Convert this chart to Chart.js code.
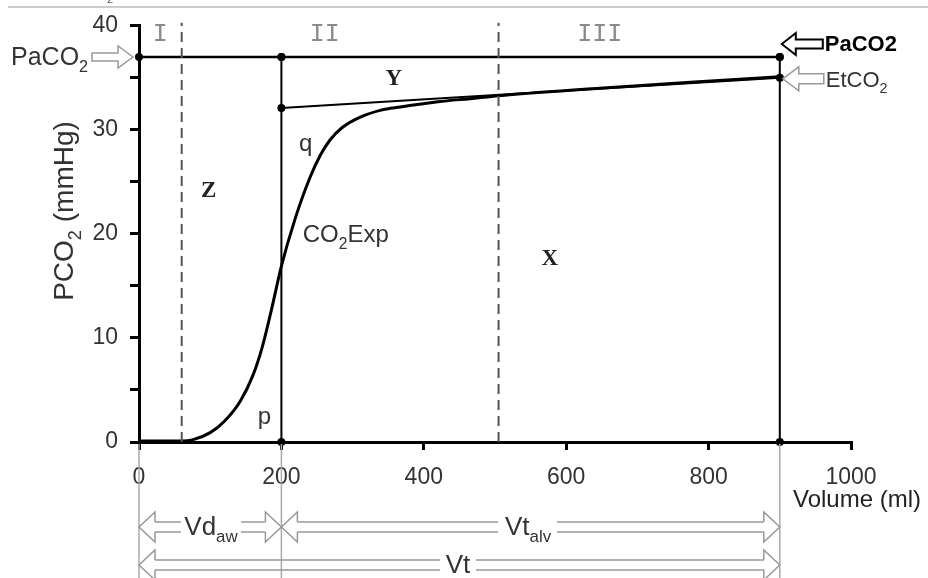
<!DOCTYPE html>
<html>
<head>
<meta charset="utf-8">
<script src="https://cdn.jsdelivr.net/npm/chart.js@4.4.1/dist/chart.umd.min.js"></script>
<style>
  body { margin: 0; background: #fff; }
  canvas { display: block; }
</style>
</head>
<body>
<canvas id="capno" width="928" height="578"></canvas>
<script>
// courbe du capnogramme volumétrique (volume expiré en ml, PCO2 en mmHg)
var volume = [0, 40, 60, 75, 100, 120, 142, 160, 173, 186, 200, 219, 240, 255, 268, 285, 310, 340, 367, 420, 465, 510, 647, 780, 900];
var pco2 = [0.1, 0.1, 0.1, 0.2, 0.9, 2.0, 3.9, 6.4, 9.1, 12.7, 16.9, 21.4, 25.4, 27.6, 29.0, 30.2, 31.2, 31.9, 32.2, 32.7, 33.0, 33.3, 34.0, 34.6, 35.1];

// valeurs de référence
var paco2 = 37;
var etco2 = 35;
var tangentStart = 32.1;   // droite Y au point p/q (200 ml)
var vdAw = 200;            // espace mort des voies aériennes
var vt = 900;              // volume courant
var phaseLimits = [60, 505];
var phaseLabels = ['I', 'II', 'III'];
var phaseLabelX = [30, 261, 647];

var xTicks = [0, 200, 400, 600, 800, 1000];
var yTicks = [0, 10, 20, 30, 40];

var FONT = '"Liberation Sans", Arial, sans-serif';
var MONO = '"Liberation Mono", "Courier New", monospace';
var SERIF = '"Liberation Serif", "Times New Roman", serif';

function pts(xs, ys) {
  return xs.map(function(x, i) { return { x: x, y: ys[i] }; });
}

// texte avec indices (ex. PaCO2)
function subText(ctx, parts, x, y, size, align, weight) {
  var w = 0;
  parts.forEach(function(p) {
    ctx.font = (weight || '') + ' ' + (p[1] ? size * 0.65 : size) + 'px ' + FONT;
    w += ctx.measureText(p[0]).width;
  });
  var cx = align === 'center' ? x - w / 2 : (align === 'right' ? x - w : x);
  ctx.textAlign = 'left';
  ctx.textBaseline = 'alphabetic';
  parts.forEach(function(p) {
    ctx.font = (weight || '') + ' ' + (p[1] ? size * 0.65 : size) + 'px ' + FONT;
    ctx.fillText(p[0], cx, p[1] ? y + size * 0.28 : y);
    cx += ctx.measureText(p[0]).width;
  });
}

// flèche creuse (PaCO2, EtCO2)
function blockArrow(ctx, tipX, y, len, dir, headLen, headHalf, shaftHalf) {
  ctx.beginPath();
  ctx.moveTo(tipX, y);
  ctx.lineTo(tipX - dir * headLen, y - headHalf);
  ctx.lineTo(tipX - dir * headLen, y - shaftHalf);
  ctx.lineTo(tipX - dir * len, y - shaftHalf);
  ctx.lineTo(tipX - dir * len, y + shaftHalf);
  ctx.lineTo(tipX - dir * headLen, y + shaftHalf);
  ctx.lineTo(tipX - dir * headLen, y + headHalf);
  ctx.closePath();
  ctx.stroke();
}

// cote à double trait avec texte au milieu
function dimArrow(ctx, x1, x2, y, gapFrom, gapTo) {
  var h = 5, hl = 16, hh = 15;
  ctx.beginPath();
  ctx.moveTo(x1 + hl, y - h); ctx.lineTo(x1 + hl, y - hh); ctx.lineTo(x1, y);
  ctx.lineTo(x1 + hl, y + hh); ctx.lineTo(x1 + hl, y + h);
  ctx.moveTo(x2 - hl, y - h); ctx.lineTo(x2 - hl, y - hh); ctx.lineTo(x2, y);
  ctx.lineTo(x2 - hl, y + hh); ctx.lineTo(x2 - hl, y + h);
  [-h, h].forEach(function(d) {
    ctx.moveTo(x1 + hl, y + d); ctx.lineTo(gapFrom, y + d);
    ctx.moveTo(gapTo, y + d); ctx.lineTo(x2 - hl, y + d);
  });
  ctx.stroke();
}

var annotations = {
  id: 'annotations',
  afterDraw: function(chart) {
    var ctx = chart.ctx;
    var sx = chart.scales.x, sy = chart.scales.y;
    var bottom = chart.chartArea.bottom;
    ctx.save();

    // bord du recadrage en haut
    ctx.strokeStyle = '#ccc'; ctx.lineWidth = 2;
    ctx.beginPath(); ctx.moveTo(8, 7); ctx.lineTo(928, 7); ctx.stroke();
    ctx.fillStyle = '#555'; ctx.font = '11px ' + FONT; ctx.textAlign = 'center';
    ctx.fillText('2', 110, 3);

    // phases I, II, III
    ctx.fillStyle = '#8a8a8a';
    ctx.font = '25px ' + MONO;
    ctx.textAlign = 'center'; ctx.textBaseline = 'middle';
    phaseLabels.forEach(function(t, i) {
      ctx.fillText(t, sx.getPixelForValue(phaseLabelX[i]), sy.getPixelForValue(39.2));
    });

    // aires X, Y, Z
    ctx.fillStyle = '#222';
    ctx.font = 'bold 23px ' + SERIF;
    ctx.fillText('Y', sx.getPixelForValue(358), sy.getPixelForValue(34.9));
    ctx.fillText('Z', sx.getPixelForValue(98), sy.getPixelForValue(24.1));
    ctx.fillText('X', sx.getPixelForValue(577), sy.getPixelForValue(17.6));

    ctx.fillStyle = '#333';
    ctx.font = '24px ' + FONT;
    ctx.fillText('q', sx.getPixelForValue(234), sy.getPixelForValue(28.6));
    ctx.fillText('p', sx.getPixelForValue(176), sy.getPixelForValue(2.4));
    subText(ctx, [['CO', 0], ['2', 1], ['Exp', 0]], sx.getPixelForValue(230), sy.getPixelForValue(19.2), 24, 'left');

    // titre de l'axe Y
    ctx.save();
    ctx.translate(73, 211);
    ctx.rotate(-Math.PI / 2);
    subText(ctx, [['PCO', 0], ['2', 1], [' (mmHg)', 0]], 0, 0, 28, 'center');
    ctx.restore();

    // titre de l'axe X
    ctx.fillStyle = '#222';
    ctx.font = '24px ' + FONT; ctx.textAlign = 'center'; ctx.textBaseline = 'alphabetic';
    ctx.fillText('Volume (ml)', 857, 507);

    // PaCO2 à gauche
    var yPa = sy.getPixelForValue(paco2);
    ctx.fillStyle = '#333';
    subText(ctx, [['PaCO', 0], ['2', 1]], 11, yPa + 8, 25, 'left');
    ctx.strokeStyle = '#999'; ctx.lineWidth = 1.5;
    blockArrow(ctx, sx.getPixelForValue(0) - 6, yPa, 41, 1, 15, 11, 4);

    // PaCO2 et EtCO2 à droite
    var x900 = sx.getPixelForValue(vt);
    var yPaR = sy.getPixelForValue(paco2 + 1.25);
    ctx.strokeStyle = '#000'; ctx.lineWidth = 2;
    blockArrow(ctx, x900 + 2, yPaR, 41, -1, 14, 11, 4.5);
    ctx.fillStyle = '#000';
    ctx.font = 'bold 22px ' + FONT; ctx.textAlign = 'left'; ctx.textBaseline = 'middle';
    ctx.fillText('PaCO2', x900 + 45, yPaR + 1);

    var yEt = sy.getPixelForValue(etco2);
    ctx.strokeStyle = '#999'; ctx.lineWidth = 1.5;
    blockArrow(ctx, x900 + 3, yEt + 1, 41, -1, 16, 12, 5);
    ctx.fillStyle = '#333';
    subText(ctx, [['EtCO', 0], ['2', 1]], x900 + 46, yEt + 9, 22, 'left');

    // cotes sous l'axe
    var x0 = sx.getPixelForValue(0), x200 = sx.getPixelForValue(vdAw);
    ctx.strokeStyle = '#aaa'; ctx.lineWidth = 1.5;
    ctx.beginPath();
    [x0, x200, x900].forEach(function(x) {
      ctx.moveTo(x, bottom + 2); ctx.lineTo(x, 578);
    });
    ctx.stroke();

    var r1 = bottom + 85, r2 = bottom + 123;
    ctx.strokeStyle = '#999'; ctx.lineWidth = 1.5;
    dimArrow(ctx, x0, x200, r1, 181, 241);
    dimArrow(ctx, x200, x900, r1, 498, 557);
    dimArrow(ctx, x0, x900, r2, 440, 476);

    ctx.fillStyle = '#333';
    subText(ctx, [['Vd', 0], ['aw', 1]], 211, r1 + 8, 26, 'center');
    subText(ctx, [['Vt', 0], ['alv', 1]], 528, r1 + 8, 26, 'center');
    subText(ctx, [['Vt', 0]], 458, r2 + 8, 26, 'center');

    ctx.restore();
  }
};

var ctx = document.getElementById('capno').getContext('2d');
var capnogramme = new Chart(ctx, {
  type: 'line',
  data: {
    datasets: [
      {
        data: [{ x: phaseLimits[0], y: 0 }, { x: phaseLimits[0], y: 40.3 }],
        borderColor: '#555', borderWidth: 2, borderDash: [10, 6], pointRadius: 0, clip: false
      },
      {
        data: [{ x: phaseLimits[1], y: 0 }, { x: phaseLimits[1], y: 40.3 }],
        borderColor: '#555', borderWidth: 2, borderDash: [10, 6], pointRadius: 0, clip: false
      },
      {
        data: pts(volume, pco2),
        borderColor: '#000', borderWidth: 3, pointRadius: 0,
        cubicInterpolationMode: 'monotone'
      },
      {
        data: [{ x: 0, y: paco2 }, { x: vdAw, y: paco2 }, { x: vt, y: paco2 }],
        borderColor: '#000', borderWidth: 2.5, pointRadius: 4,
        pointBackgroundColor: '#000', pointBorderWidth: 0, clip: false
      },
      {
        data: [{ x: vdAw, y: tangentStart }, { x: vt, y: etco2 }],
        borderColor: '#000', borderWidth: 2, pointRadius: 4,
        pointBackgroundColor: '#000', pointBorderWidth: 0
      },
      {
        data: [{ x: vdAw, y: 0 }, { x: vdAw, y: paco2 }],
        borderColor: '#000', borderWidth: 2, pointRadius: 4,
        pointBackgroundColor: '#000', pointBorderWidth: 0, clip: false
      },
      {
        data: [{ x: vt, y: 0 }, { x: vt, y: paco2 }],
        borderColor: '#000', borderWidth: 2, pointRadius: 4,
        pointBackgroundColor: '#000', pointBorderWidth: 0, clip: false
      }
    ]
  },
  options: {
    responsive: false,
    animation: false,
    layout: { padding: { left: 0, top: 25, right: 77, bottom: 0 } },
    plugins: { legend: { display: false }, tooltip: { enabled: false } },
    scales: {
      x: {
        type: 'linear', min: 0, max: 1000,
        afterBuildTicks: function(s) { s.ticks = xTicks.map(function(v) { return { value: v }; }); },
        ticks: {
          color: '#333', font: { size: 23, family: FONT }, padding: 14, maxRotation: 0, autoSkip: false,
          callback: function(v) { return String(v); }
        },
        grid: { drawOnChartArea: false, color: '#000', lineWidth: 3, tickLength: 8 },
        border: { color: '#000', width: 3 },
        afterFit: function(s) { s.height = 136; }
      },
      y: {
        min: 0, max: 40,
        ticks: {
          stepSize: 5, color: '#333', font: { size: 23, family: FONT }, padding: 12,
          callback: function(v) { return yTicks.indexOf(v) >= 0 ? String(v) : ''; }
        },
        grid: { drawOnChartArea: false, color: '#000', lineWidth: 3, tickLength: 9 },
        border: { color: '#000', width: 3 },
        afterFit: function(s) { s.height = undefined; s.width = 139; }
      }
    }
  },
  plugins: [annotations]
});
</script>
</body>
</html>
